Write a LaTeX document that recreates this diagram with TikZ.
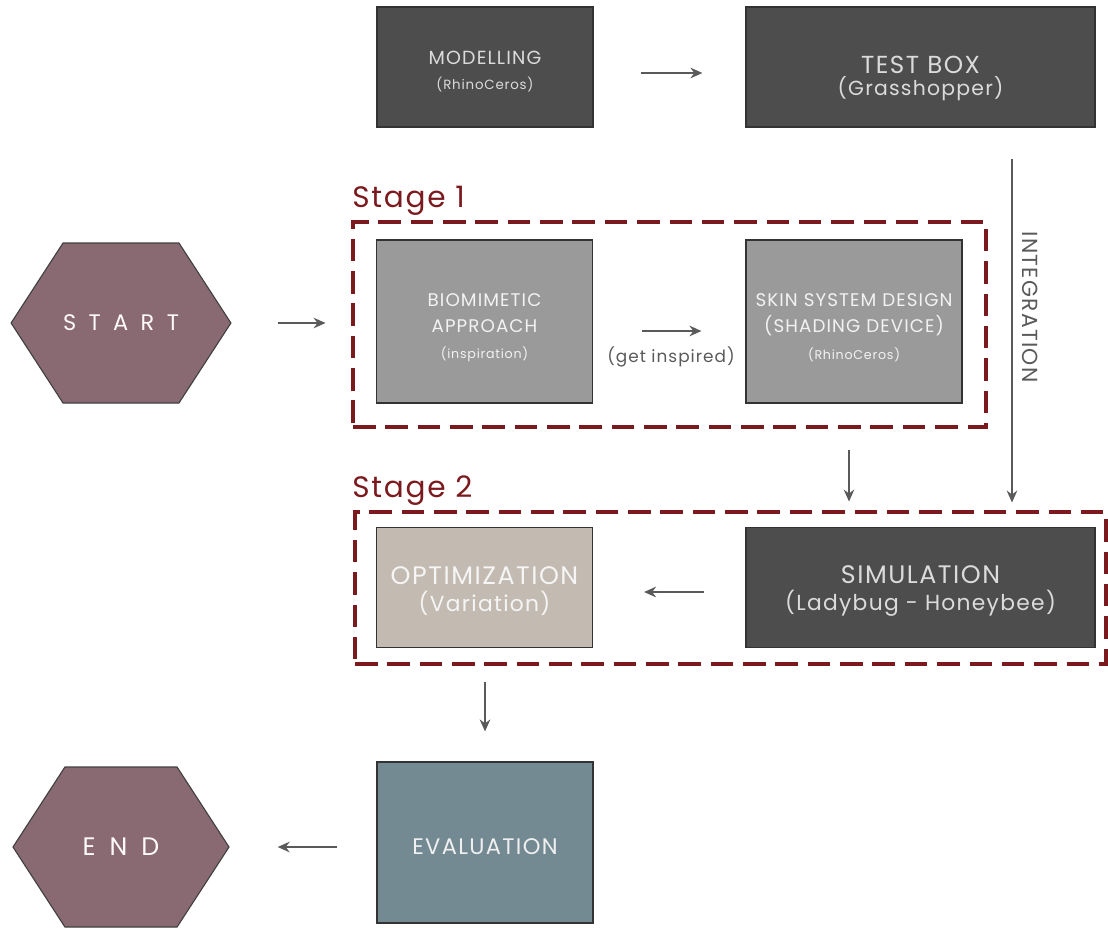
\documentclass[tikz,border=0pt]{standalone}
\usepackage{fontspec}
\setmainfont{Poppins}[LetterSpace=6]
\usetikzlibrary{arrows.meta,shapes.symbols}

\definecolor{darkfill}{HTML}{4D4D4D}
\definecolor{greyfill}{HTML}{9A9A9A}
\definecolor{optfill}{HTML}{C3BBB1}
\definecolor{evalfill}{HTML}{748A93}
\definecolor{hexfill}{HTML}{8A6A72}
\definecolor{stagered}{HTML}{7B1A1E}
\definecolor{arrowgrey}{HTML}{5A5A5A}

\newlength\unitpx
\setlength\unitpx{0.025cm}
\newcommand{\fsize}[2]{\fontsize{#1}{#2}\selectfont}

\tikzset{
  box/.style={draw=black!80, line width=0.8pt, minimum width=216\unitpx,
    minimum height=120\unitpx, align=center, inner sep=0pt},
  darkbox/.style={box, fill=darkfill, text=white!86!black},
  greybox/.style={box, fill=greyfill, text=white!95!black, minimum height=163\unitpx},
  optbox/.style={box, fill=optfill, text=white!96!black},
  evalbox/.style={box, fill=evalfill, text=white!94!black, minimum height=161\unitpx},
  hexnode/.style={signal, signal to=east and west, signal pointer angle=114,
    draw=black!75, line width=0.8pt, fill=hexfill, text=white!92!pink,
    minimum width=216\unitpx, minimum height=160\unitpx, inner sep=0pt},
  stagebox/.style={draw=stagered, line width=3.5pt, dash pattern=on 16pt off 7pt,
    inner sep=0pt},
  stagelabel/.style={text=stagered, anchor=base west, inner sep=0pt,
    font=\fsize{21}{24}},
  flow/.style={draw=arrowgrey, line width=1.4pt, -{Stealth[length=8.5pt,width=7.5pt]}},
}

\begin{document}
\begin{tikzpicture}[x=0.025cm, y=-0.025cm]
\useasboundingbox (0,0) rectangle (1108,927);

% top row
\node[darkbox, font=\fsize{13.5}{17.8pt}] (modelling) at (485,67)
  {\rule{0pt}{16.5pt}MODELLING\\\fsize{9.5}{12}(RhinoCeros)};
\node[darkbox, minimum width=349\unitpx, font=\fsize{17.5}{15.6pt}] (testbox) at (920.5,67)
  {\rule{0pt}{29pt}TEST BOX\\\fsize{14.5}{16}(Grasshopper)};

% stage 1
\node[stagebox, minimum width=633\unitpx, minimum height=205\unitpx] (stage1) at (669.5,324.5) {};
\node[stagelabel] (stage1lbl) at (352,207) {Stage 1};
\node[greybox, font=\fsize{13}{18.8pt}] (biomimetic) at (484.5,321.5)
  {\rule{0pt}{18pt}BIOMIMETIC\\APPROACH\\\fsize{9}{11}(inspiration)};
\node[greybox, font=\fsize{13}{18.8pt}] (skin) at (854,321.5)
  {\rule{0pt}{18pt}SKIN SYSTEM DESIGN\\(SHADING DEVICE)\\\fsize{9}{11}(RhinoCeros)};
\node[text=arrowgrey, font=\fsize{12}{14}] (getinsp) at (671,357) {(get inspired)};

% stage 2
\node[stagebox, minimum width=751\unitpx, minimum height=152\unitpx] (stage2) at (730.5,588) {};
\node[stagelabel] (stage2lbl) at (352,497) {Stage 2};
\node[optbox, font=\fsize{18}{19.2pt}] (optim) at (484.5,587.5)
  {\rule{0pt}{18pt}OPTIMIZATION\\\fsize{15.5}{18}(Variation)};
\node[darkbox, minimum width=349\unitpx, font=\fsize{18}{19.2pt}] (simul) at (920.5,587.5)
  {\rule{0pt}{18pt}SIMULATION\\\fsize{15.5}{18}(Ladybug - Honeybee)};

% bottom
\node[evalbox, font=\fsize{16}{19}] (evaluation) at (485,842.5) {\rule{0pt}{17.5pt}EVALUATION};
\node[hexnode, font=\fsize{16}{19}\addfontfeature{LetterSpace=55}] (start) at (121,323) {START};
\node[hexnode, font=\fsize{18}{21}\addfontfeature{LetterSpace=55}] (end) at (121,847) {END};

% connectors
\draw[flow, shorten <=47\unitpx, shorten >=43\unitpx] ([yshift=-6\unitpx]modelling.east) -- ([yshift=-6\unitpx]testbox.west);
\draw[flow, shorten <=46\unitpx, shorten >=25\unitpx] (start.east) -- (stage1.west |- start.east);
\draw[flow, shorten <=49\unitpx, shorten >=44\unitpx] ([yshift=-9.5\unitpx]biomimetic.east) -- ([yshift=-9.5\unitpx]skin.west);
\draw[flow, shorten <=31\unitpx, shorten >=7\unitpx] ([xshift=91.5\unitpx]testbox.south) -- ([xshift=281.5\unitpx]stage2.north)
  node[pos=0.47, rotate=-90, anchor=south, yshift=5\unitpx, text=arrowgrey, font=\fsize{15.5}{18}] (integ) {INTEGRATION};
\draw[flow, shorten <=21\unitpx, shorten >=8\unitpx] ([xshift=179.5\unitpx]stage1.south) -- ([xshift=118.5\unitpx]stage2.north);
\draw[flow, shorten <=41\unitpx, shorten >=51\unitpx] ([yshift=-4.5\unitpx]simul.west) -- ([yshift=-4.5\unitpx]optim.east);
\draw[flow, shorten <=16\unitpx, shorten >=30\unitpx] ([xshift=-245.5\unitpx]stage2.south) -- (evaluation.north);
\draw[flow, shorten <=39\unitpx, shorten >=48\unitpx] (evaluation.west |- end.east) -- (end.east);
\end{tikzpicture}
\end{document}
